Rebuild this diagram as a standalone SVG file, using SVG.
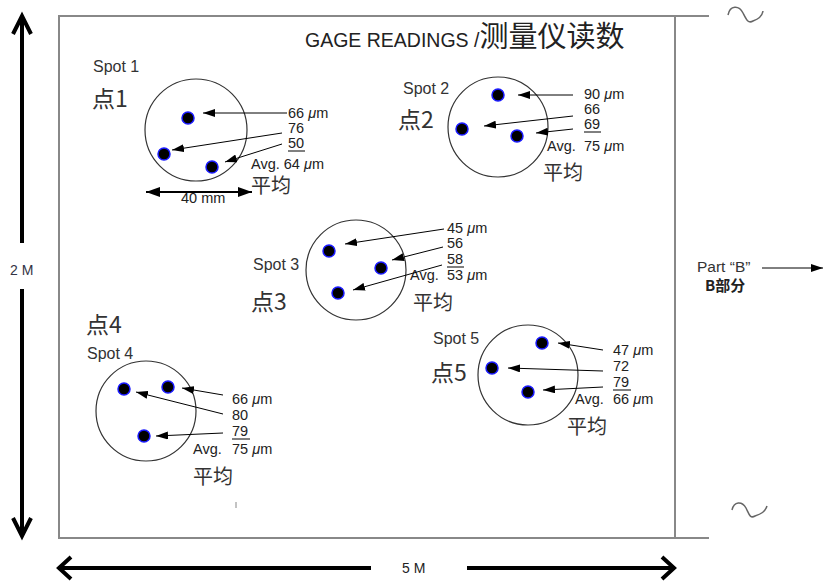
<svg xmlns="http://www.w3.org/2000/svg" width="823" height="581" viewBox="0 0 823 581">
<defs>
<marker id="ah" viewBox="0 0 12 8" refX="12" refY="4" markerWidth="12" markerHeight="8" markerUnits="userSpaceOnUse" orient="auto">
<path d="M0,0 L12,4 L0,8 Z" fill="#000"/>
</marker>
<marker id="ahb" viewBox="0 0 14 10" refX="14" refY="5" markerWidth="14" markerHeight="10" markerUnits="userSpaceOnUse" orient="auto">
<path d="M0,0 L14,5 L0,10 Z" fill="#000"/>
</marker>
<marker id="ahbs" viewBox="0 0 14 10" refX="0" refY="5" markerWidth="14" markerHeight="10" markerUnits="userSpaceOnUse" orient="auto">
<path d="M14,0 L0,5 L14,10 Z" fill="#000"/>
</marker>
<style>
.t{font-family:"Liberation Sans",Arial,sans-serif;font-size:14.5px;fill:#222}
.sp{font-family:"Liberation Sans",Arial,sans-serif;font-size:16px;fill:#333}
.pt{font-family:"Noto Sans CJK SC","Liberation Sans",sans-serif;font-size:23px;fill:#333}
.av{font-family:"Noto Sans CJK SC",sans-serif;font-size:20px;fill:#333}
.mu{font-style:italic}
.ring{fill:none;stroke:#333;stroke-width:1.2}
.dot{fill:#000;stroke:#1a1aff;stroke-width:1.5}
.ld{stroke:#000;stroke-width:1;fill:none;marker-end:url(#ah)}
.ul{stroke:#000;stroke-width:1}
.frame{stroke:#888;stroke-width:2;fill:none}
.dim{stroke:#000;stroke-width:4;fill:none;stroke-linecap:butt}
.tl{stroke:#666;stroke-width:1.5;fill:none}
</style>
</defs>
<rect width="823" height="581" fill="#fff"/>

<g id="frame">
<path class="frame" d="M59,16 H675 V538 H59 Z"/>
<line class="frame" x1="675" y1="16" x2="709" y2="16"/>
<line class="frame" x1="675" y1="538" x2="709" y2="538"/>
<path class="tl" d="M728,15 C730,5 739,5 743,13 C746,19 748,24 753,21 C758,19 762,17 763,11"/>
<path class="tl" d="M732,510 C734,501 742,501 746,508 C749,514 750,519 755,516 C761,514 765,512 767,506"/>
<line x1="236" y1="502" x2="236" y2="508" stroke="#888" stroke-width="1"/>
</g>

<g id="title">
<text x="305" y="47" font-family="Liberation Sans,Arial,sans-serif" font-size="19.5" fill="#222">GAGE READINGS /<tspan font-family="Noto Sans CJK SC,sans-serif" font-size="29">测量仪读数</tspan></text>
</g>

<g id="dim-2m">
<path class="dim" d="M22,17 V243 M22,289 V535"/>
<path class="dim" d="M13,34 L22,16 L31,34 M13,518 L22,536 L31,518"/>
<text x="10" y="275" font-family="Liberation Sans,Arial,sans-serif" font-size="14" fill="#334">2 M</text>
</g>

<g id="dim-5m">
<path class="dim" d="M60,568 H371 M467,568 H673"/>
<path class="dim" d="M71,557 L59,568 L71,579 M662,557 L674,568 L662,579"/>
<text x="402" y="573" font-family="Liberation Sans,Arial,sans-serif" font-size="14" fill="#222">5 M</text>
</g>

<g id="partB">
<text x="697" y="272" font-family="Liberation Sans,Arial,sans-serif" font-size="15.5" fill="#333">Part “B”</text>
<text x="705" y="291" font-family="Noto Sans CJK SC,sans-serif" font-size="15" font-weight="bold" fill="#222">B部分</text>
<line x1="762" y1="268" x2="823" y2="268" stroke="#000" stroke-width="1" marker-end="url(#ah)"/>
</g>

<g id="spot1">
<circle class="ring" cx="196" cy="130" r="51"/>
<circle class="dot" cx="188" cy="118" r="6"/>
<circle class="dot" cx="164" cy="154" r="6"/>
<circle class="dot" cx="212" cy="167" r="6"/>
<text class="sp" x="93" y="72">Spot 1</text>
<text class="pt" x="92" y="107">点1</text>
<text class="t" x="288" y="118">66 <tspan class="mu">μ</tspan>m</text>
<text class="t" x="288" y="133">76</text>
<text class="t" x="288" y="148">50</text>
<line class="ul" x1="288" y1="151" x2="305" y2="151"/>
<text class="t" x="251" y="169">Avg. 64 <tspan class="mu">μ</tspan>m</text>
<text class="av" x="251" y="193">平均</text>
<line x1="146" y1="192" x2="252" y2="192" stroke="#000" stroke-width="2" marker-start="url(#ahbs)" marker-end="url(#ahb)"/>
<text x="181" y="203" font-family="Liberation Sans,Arial,sans-serif" font-size="14.5" fill="#222">40 mm</text>
</g>

<g id="spot2">
<circle class="ring" cx="498" cy="127" r="50"/>
<circle class="dot" cx="498" cy="95" r="6"/>
<circle class="dot" cx="462" cy="129" r="6"/>
<circle class="dot" cx="517" cy="136" r="6"/>
<text class="sp" x="403" y="94">Spot 2</text>
<text class="pt" x="398" y="128">点2</text>
<text class="t" x="584" y="99">90 <tspan class="mu">μ</tspan>m</text>
<text class="t" x="584" y="114">66</text>
<text class="t" x="584" y="129">69</text>
<line class="ul" x1="584" y1="132" x2="601" y2="132"/>
<text class="t" x="547" y="151">Avg.</text>
<text class="t" x="584" y="151">75 <tspan class="mu">μ</tspan>m</text>
<text class="av" x="543" y="180">平均</text>
</g>

<g id="spot3">
<circle class="ring" cx="356" cy="270" r="50"/>
<circle class="dot" cx="329" cy="251" r="6"/>
<circle class="dot" cx="381" cy="268" r="6"/>
<circle class="dot" cx="338" cy="293" r="6"/>
<text class="sp" x="253" y="270">Spot 3</text>
<text class="pt" x="251" y="310">点3</text>
<text class="t" x="447" y="233">45 <tspan class="mu">μ</tspan>m</text>
<text class="t" x="447" y="248">56</text>
<text class="t" x="447" y="264">58</text>
<line class="ul" x1="447" y1="267" x2="464" y2="267"/>
<text class="t" x="410" y="280">Avg.</text>
<text class="t" x="447" y="280">53 <tspan class="mu">μ</tspan>m</text>
<text class="av" x="413" y="310">平均</text>
</g>

<g id="spot4">
<circle class="ring" cx="146" cy="411" r="50"/>
<circle class="dot" cx="124" cy="389" r="6"/>
<circle class="dot" cx="168" cy="387" r="6"/>
<circle class="dot" cx="144" cy="436" r="6"/>
<text class="sp" x="87" y="359">Spot 4</text>
<text class="pt" x="86" y="333">点4</text>
<text class="t" x="232" y="404">66 <tspan class="mu">μ</tspan>m</text>
<text class="t" x="232" y="420">80</text>
<text class="t" x="232" y="436">79</text>
<line class="ul" x1="232" y1="439" x2="250" y2="439"/>
<text class="t" x="193" y="454">Avg.</text>
<text class="t" x="232" y="454">75 <tspan class="mu">μ</tspan>m</text>
<text class="av" x="193" y="484">平均</text>
</g>

<g id="spot5">
<circle class="ring" cx="528" cy="375" r="50"/>
<circle class="dot" cx="542" cy="343" r="6"/>
<circle class="dot" cx="492" cy="368" r="6"/>
<circle class="dot" cx="528" cy="392" r="6"/>
<text class="sp" x="433" y="344">Spot 5</text>
<text class="pt" x="431" y="381">点5</text>
<text class="t" x="613" y="355">47 <tspan class="mu">μ</tspan>m</text>
<text class="t" x="613" y="371">72</text>
<text class="t" x="613" y="387">79</text>
<line class="ul" x1="613" y1="390" x2="631" y2="390"/>
<text class="t" x="575" y="404">Avg.</text>
<text class="t" x="613" y="404">66 <tspan class="mu">μ</tspan>m</text>
<text class="av" x="567" y="434">平均</text>
</g>

<g id="connectors">
<line class="ld" x1="287" y1="113" x2="203" y2="113"/>
<line class="ld" x1="282" y1="133" x2="172" y2="150"/>
<line class="ld" x1="282" y1="144" x2="225" y2="162"/>
<line class="ld" x1="573" y1="95" x2="518" y2="95"/>
<line class="ld" x1="573" y1="116" x2="484" y2="126"/>
<line class="ld" x1="573" y1="129" x2="536" y2="133"/>
<line class="ld" x1="444" y1="229" x2="345" y2="244"/>
<line class="ld" x1="443" y1="247" x2="392" y2="260"/>
<line class="ld" x1="442" y1="265" x2="353" y2="290"/>
<line class="ld" x1="223" y1="395" x2="182" y2="388"/>
<line class="ld" x1="223" y1="414" x2="136" y2="392"/>
<line class="ld" x1="223" y1="433" x2="156" y2="436"/>
<line class="ld" x1="603" y1="350" x2="558" y2="343"/>
<line class="ld" x1="603" y1="371" x2="508" y2="368"/>
<line class="ld" x1="603" y1="387" x2="543" y2="390"/>
</g>
</svg>
